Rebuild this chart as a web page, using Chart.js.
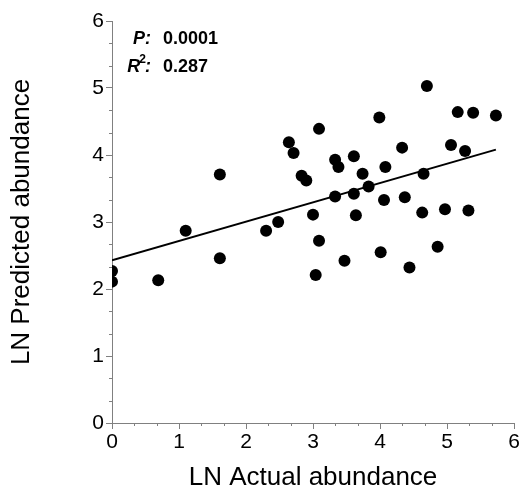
<!DOCTYPE html>
<html>
<head>
<meta charset="UTF-8">
<title>LN abundance</title>
<script src="https://cdn.jsdelivr.net/npm/chart.js"></script>
<style>
  html, body { margin: 0; padding: 0; background: #fff; }
  #wrap { width: 521px; height: 491px; }
</style>
</head>
<body>
<div id="wrap"><canvas id="c"></canvas></div>
<script>
  // LN actual vs LN predicted abundance
  const actual = [0, 0, 0.69, 1.10, 1.61, 1.61, 2.30, 2.48, 2.64, 2.71, 2.83, 2.90, 3.00, 3.04, 3.09,
                  3.09, 3.33, 3.38, 3.33, 3.47, 3.61, 3.61, 3.64, 3.74, 3.83, 3.99, 4.01, 4.06, 4.08,
                  4.33, 4.37, 4.44, 4.63, 4.65, 4.70, 4.86, 4.97, 5.06, 5.16, 5.27, 5.32, 5.39, 5.73];
  const predicted = [2.27, 2.11, 2.13, 2.87, 2.46, 3.71, 2.87, 3.00, 4.19, 4.03, 3.69, 3.62, 3.11, 2.21, 2.72,
                     4.39, 3.93, 3.82, 3.38, 2.42, 3.98, 3.42, 3.10, 3.72, 3.53, 4.56, 2.55, 3.33, 3.82,
                     4.11, 3.37, 2.32, 3.14, 3.72, 5.03, 2.63, 3.19, 4.15, 4.64, 4.06, 3.17, 4.63, 4.59];
  const fitX = [0, 5.73];
  const fitY = [2.43, 4.08];
  const axisMin = 0, axisMax = 6;
  const pText = '0.0001';
  const r2Text = '0.287';

  const FONT = '"Liberation Sans", Arial, sans-serif';
  const AXIS = '#808080';

  const minorTicks = {
    id: 'minorTicks',
    afterDraw(chart) {
      const ctx = chart.ctx, xs = chart.scales.x, ys = chart.scales.y;
      ctx.save();
      ctx.strokeStyle = AXIS;
      ctx.lineWidth = 1;
      for (let i = 1; i < axisMax * 3; i++) {
        if (i % 3 === 0) continue;
        const v = i / 3;
        const px = Math.round(xs.getPixelForValue(v)) + 0.5;
        ctx.beginPath(); ctx.moveTo(px, xs.top); ctx.lineTo(px, xs.top + 3); ctx.stroke();
        const py = Math.round(ys.getPixelForValue(v)) + 0.5;
        ctx.beginPath(); ctx.moveTo(ys.right, py); ctx.lineTo(ys.right - 3, py); ctx.stroke();
      }
      ctx.restore();
    }
  };

  const stats = {
    id: 'stats',
    afterDraw(chart) {
      const ctx = chart.ctx, a = chart.chartArea;
      const colonX = a.left + 39, valX = a.left + 51;
      ctx.save();
      ctx.fillStyle = '#000';
      ctx.textBaseline = 'alphabetic';
      // P line
      let y = a.top + 23;
      ctx.font = 'italic bold 18px ' + FONT;
      ctx.textAlign = 'right';
      ctx.fillText('P:', colonX, y);
      ctx.font = 'bold 18px ' + FONT;
      ctx.textAlign = 'left';
      ctx.fillText(pText, valX, y);
      // R^2 line
      y = a.top + 51;
      ctx.font = 'italic bold 18px ' + FONT;
      ctx.textAlign = 'right';
      const colonW = ctx.measureText(':').width;
      ctx.fillText(':', colonX, y);
      ctx.font = 'bold 12px ' + FONT;
      const twoW = ctx.measureText('2').width;
      ctx.fillText('2', colonX - colonW + 1, y - 9);
      ctx.font = 'italic bold 18px ' + FONT;
      ctx.fillText('R', colonX - colonW - twoW + 2, y);
      ctx.font = 'bold 18px ' + FONT;
      ctx.textAlign = 'left';
      ctx.fillText(r2Text, valX, y);
      ctx.restore();
    }
  };

  const points = actual.map((x, i) => ({ x: x, y: predicted[i] }));
  const fit = fitX.map((x, i) => ({ x: x, y: fitY[i] }));

  new Chart(document.getElementById('c'), {
    type: 'scatter',
    data: {
      datasets: [
        {
          data: fit,
          showLine: true,
          borderColor: '#000',
          borderWidth: 2,
          pointRadius: 0,
          fill: false
        },
        {
          data: points,
          pointRadius: 6,
          pointHoverRadius: 6,
          backgroundColor: '#000',
          borderColor: '#000',
          borderWidth: 0
        }
      ]
    },
    options: {
      responsive: true,
      maintainAspectRatio: false,
      animation: false,
      events: [],
      layout: { padding: { top: 21, right: 7, left: 0, bottom: 0 } },
      plugins: { legend: { display: false }, tooltip: { enabled: false } },
      scales: {
        x: {
          type: 'linear',
          min: axisMin, max: axisMax,
          border: { color: AXIS, width: 1 },
          grid: { drawOnChartArea: false, drawTicks: true, tickLength: 6, color: AXIS },
          ticks: { stepSize: 1, color: '#000', padding: 1, font: { family: FONT, size: 21 } },
          title: { display: true, text: 'LN Actual abundance', color: '#000',
                   font: { family: FONT, size: 26, lineHeight: 1 }, padding: { top: 0, bottom: 0 } },
          afterFit(s) { s.height = 68; }
        },
        y: {
          type: 'linear',
          min: axisMin, max: axisMax,
          border: { color: AXIS, width: 1 },
          grid: { drawOnChartArea: false, drawTicks: true, tickLength: 6, color: AXIS },
          ticks: { stepSize: 1, color: '#000', padding: 2, font: { family: FONT, size: 21 } },
          title: { display: true, text: 'LN Predicted abundance', color: '#000',
                   font: { family: FONT, size: 26, lineHeight: 1 }, padding: { top: 9, bottom: 0 } },
          afterFit(s) { s.width = 112; }
        }
      }
    },
    plugins: [minorTicks, stats]
  });
</script>
</body>
</html>
